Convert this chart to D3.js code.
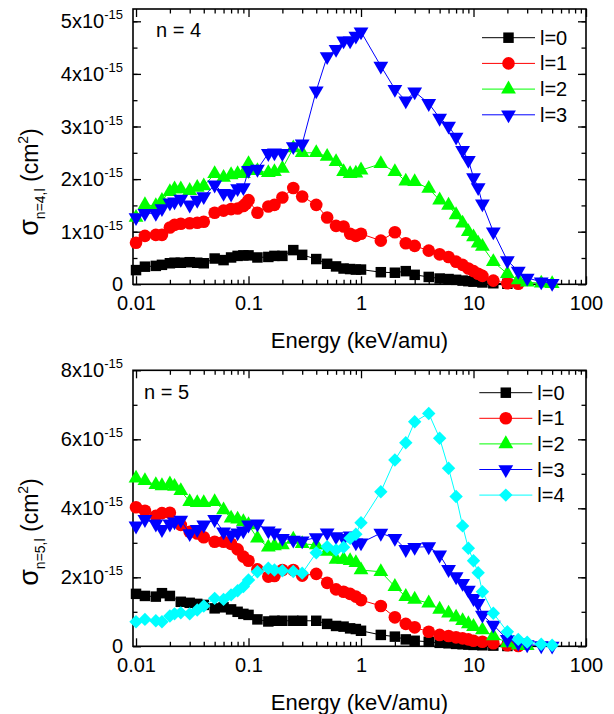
<!DOCTYPE html>
<html>
<head>
<meta charset="utf-8">
<script src="https://cdn.jsdelivr.net/npm/d3@7.9.0/dist/d3.min.js"></script>
<style>
  body { margin: 0; background: #fff; }
  svg { display: block; font-family: "Liberation Sans", Arial, sans-serif; }
</style>
</head>
<body>
<svg id="chart" width="614" height="714"></svg>
<script>
// cross sections in units of 1e-15 cm^2, energies in keV/amu
const colors = ['#000000', '#ff0000', '#00ff00', '#0000ff', '#00ffff'];
const legendLabels = ['l=0', 'l=1', 'l=2', 'l=3', 'l=4'];
const xTickValues = [0.01, 0.1, 1, 10, 100];
const xTickLabels = ['0.01', '0.1', '1', '10', '100'];
const yTicksN4 = [0, 1, 2, 3, 4, 5];
const yTicksN5 = [0, 2, 4, 6, 8];

// n = 4
const energyN4L0 = [0.01, 0.012, 0.015, 0.017, 0.02, 0.022, 0.025, 0.03, 0.035, 0.04, 0.05, 0.06, 0.07, 0.08, 0.09, 0.1, 0.12, 0.15, 0.17, 0.2, 0.25, 0.3, 0.4, 0.5, 0.6, 0.7, 0.8, 0.9, 1, 1.5, 2, 2.5, 3, 4, 5, 6, 7, 8, 9, 10, 12, 15, 20];
const sigmaN4L0 = [0.27, 0.335, 0.35, 0.37, 0.40, 0.41, 0.41, 0.42, 0.41, 0.40, 0.49, 0.46, 0.51, 0.54, 0.55, 0.55, 0.51, 0.52, 0.54, 0.54, 0.65, 0.56, 0.48, 0.39, 0.34, 0.30, 0.29, 0.28, 0.28, 0.23, 0.22, 0.25, 0.18, 0.14, 0.11, 0.10, 0.085, 0.07, 0.06, 0.05, 0.035, 0.02, 0.01];

const energyN4L1 = [0.01, 0.012, 0.015, 0.017, 0.02, 0.022, 0.025, 0.03, 0.035, 0.04, 0.05, 0.06, 0.07, 0.08, 0.09, 0.095, 0.1, 0.12, 0.15, 0.17, 0.2, 0.25, 0.3, 0.4, 0.5, 0.6, 0.7, 0.8, 0.9, 1, 1.5, 2, 2.5, 3, 4, 5, 6, 7, 8, 9, 10, 11, 12, 15, 20, 25];
const sigmaN4L1 = [0.79, 0.92, 0.94, 0.94, 1.08, 1.13, 1.15, 1.16, 1.17, 1.19, 1.36, 1.40, 1.43, 1.44, 1.49, 1.53, 1.60, 1.36, 1.48, 1.51, 1.65, 1.83, 1.67, 1.51, 1.27, 1.11, 1.10, 0.96, 0.92, 0.96, 0.83, 0.99, 0.78, 0.73, 0.64, 0.57, 0.52, 0.43, 0.37, 0.30, 0.25, 0.20, 0.16, 0.07, 0.02, 0.01];

const energyN4L2 = [0.01, 0.012, 0.015, 0.017, 0.02, 0.022, 0.025, 0.03, 0.035, 0.04, 0.05, 0.06, 0.07, 0.08, 0.09, 0.1, 0.12, 0.15, 0.17, 0.2, 0.25, 0.3, 0.4, 0.5, 0.6, 0.7, 0.8, 0.9, 1, 1.5, 2, 2.5, 3, 4, 5, 6, 7, 8, 9, 10, 11, 12, 15, 20, 25, 30, 40, 50];
const sigmaN4L2 = [1.27, 1.51, 1.49, 1.59, 1.76, 1.81, 1.81, 1.78, 1.84, 1.87, 2.10, 2.03, 2.08, 2.10, 2.10, 2.29, 2.16, 2.12, 2.14, 2.20, 2.59, 2.50, 2.50, 2.43, 2.33, 2.14, 2.10, 2.11, 2.17, 2.29, 2.14, 1.96, 1.95, 1.82, 1.60, 1.50, 1.32, 1.16, 1.00, 0.90, 0.78, 0.72, 0.43, 0.20, 0.08, 0.04, 0.02, 0.01];

const energyN4L3 = [0.01, 0.012, 0.015, 0.017, 0.02, 0.022, 0.025, 0.03, 0.035, 0.04, 0.05, 0.06, 0.07, 0.08, 0.09, 0.1, 0.12, 0.15, 0.17, 0.2, 0.25, 0.3, 0.4, 0.5, 0.6, 0.7, 0.8, 0.9, 1, 1.5, 2, 2.5, 3, 4, 5, 6, 7, 8, 9, 10, 11, 12, 15, 20, 25, 30, 40, 50];
const sigmaN4L3 = [1.27, 1.35, 1.35, 1.44, 1.55, 1.57, 1.62, 1.51, 1.60, 1.67, 1.89, 1.73, 1.72, 1.82, 1.84, 2.17, 2.19, 2.49, 2.50, 2.49, 2.62, 2.67, 3.68, 4.33, 4.47, 4.63, 4.63, 4.72, 4.80, 4.15, 3.71, 3.49, 3.66, 3.44, 3.16, 3.01, 2.80, 2.55, 2.36, 2.03, 1.84, 1.53, 1.00, 0.45, 0.25, 0.12, 0.05, 0.02];

// n = 5
const energyN5L0 = [0.01, 0.012, 0.015, 0.017, 0.02, 0.025, 0.03, 0.035, 0.04, 0.05, 0.06, 0.07, 0.08, 0.09, 0.1, 0.12, 0.15, 0.17, 0.2, 0.25, 0.3, 0.4, 0.5, 0.6, 0.7, 0.8, 0.9, 1, 1.5, 2, 2.5, 3, 4, 5, 6, 7, 8, 9, 10, 12, 15, 20];
const sigmaN5L0 = [1.52, 1.46, 1.44, 1.54, 1.46, 1.29, 1.26, 1.23, 1.20, 1.10, 1.13, 1.07, 1.00, 0.94, 0.91, 0.78, 0.72, 0.74, 0.74, 0.74, 0.74, 0.74, 0.65, 0.59, 0.57, 0.52, 0.50, 0.45, 0.33, 0.28, 0.20, 0.16, 0.13, 0.10, 0.087, 0.07, 0.06, 0.05, 0.04, 0.03, 0.02, 0.01];

const energyN5L1 = [0.01, 0.012, 0.015, 0.017, 0.02, 0.025, 0.03, 0.035, 0.04, 0.05, 0.06, 0.07, 0.08, 0.09, 0.1, 0.12, 0.15, 0.17, 0.2, 0.25, 0.3, 0.4, 0.5, 0.6, 0.7, 0.8, 0.9, 1, 1.5, 2, 2.5, 3, 4, 5, 6, 7, 8, 9, 10, 12, 15, 20, 25];
const sigmaN5L1 = [4.03, 3.93, 3.78, 3.86, 3.87, 3.52, 3.32, 3.27, 3.16, 3.03, 3.03, 2.97, 2.81, 2.60, 2.48, 2.23, 2.02, 2.04, 2.21, 2.21, 2.05, 2.10, 1.84, 1.65, 1.58, 1.52, 1.44, 1.34, 1.17, 0.84, 0.65, 0.55, 0.42, 0.33, 0.30, 0.26, 0.23, 0.20, 0.16, 0.13, 0.087, 0.03, 0.01];

const energyN5L2 = [0.01, 0.012, 0.015, 0.017, 0.02, 0.022, 0.025, 0.03, 0.035, 0.04, 0.05, 0.06, 0.07, 0.08, 0.09, 0.1, 0.12, 0.15, 0.17, 0.2, 0.25, 0.3, 0.4, 0.5, 0.6, 0.7, 0.8, 0.9, 1, 1.5, 2, 2.5, 3, 4, 5, 6, 7, 8, 9, 10, 12, 15, 20, 25, 30];
const sigmaN5L2 = [4.87, 4.80, 4.68, 4.65, 4.70, 4.63, 4.51, 4.19, 4.16, 4.16, 4.19, 3.95, 3.71, 3.68, 3.61, 3.52, 3.13, 2.87, 2.91, 2.94, 3.10, 2.97, 2.94, 2.75, 2.52, 2.52, 2.48, 2.42, 2.21, 2.16, 1.73, 1.44, 1.36, 1.25, 1.07, 0.96, 0.84, 0.74, 0.65, 0.57, 0.47, 0.30, 0.10, 0.04, 0.02];

const energyN5L3 = [0.01, 0.012, 0.015, 0.017, 0.02, 0.022, 0.025, 0.03, 0.035, 0.04, 0.05, 0.06, 0.07, 0.08, 0.09, 0.1, 0.12, 0.15, 0.17, 0.2, 0.25, 0.3, 0.4, 0.5, 0.6, 0.7, 0.8, 0.9, 1, 1.5, 2, 2.5, 3, 4, 5, 6, 7, 8, 9, 10, 11, 12, 15, 20, 25, 30, 40, 50];
const sigmaN5L3 = [3.49, 3.68, 3.55, 3.39, 3.55, 3.61, 3.66, 3.27, 3.39, 3.52, 3.68, 3.32, 3.23, 3.29, 3.35, 3.52, 3.55, 3.35, 3.29, 3.13, 3.08, 3.06, 3.15, 3.29, 3.18, 3.13, 3.20, 3.00, 3.00, 3.28, 3.13, 2.81, 2.87, 2.89, 2.65, 2.23, 2.02, 1.83, 1.63, 1.39, 1.25, 0.91, 0.62, 0.20, 0.10, 0.05, 0.02, 0.01];

const energyN5L4 = [0.01, 0.012, 0.015, 0.017, 0.02, 0.022, 0.025, 0.03, 0.035, 0.04, 0.05, 0.06, 0.07, 0.08, 0.09, 0.1, 0.12, 0.15, 0.17, 0.2, 0.25, 0.3, 0.4, 0.5, 0.6, 0.7, 0.8, 0.9, 1, 1.5, 2, 2.5, 3, 4, 5, 6, 7, 8, 9, 10, 11, 12, 15, 20, 25, 30, 40, 50];
const sigmaN5L4 = [0.71, 0.78, 0.74, 0.71, 0.88, 0.94, 0.97, 0.94, 1.05, 1.17, 1.39, 1.36, 1.49, 1.61, 1.73, 1.92, 2.16, 2.26, 2.21, 2.19, 2.17, 2.12, 2.71, 2.89, 2.79, 2.87, 3.13, 3.25, 3.58, 4.48, 5.40, 5.90, 6.51, 6.75, 6.03, 5.16, 4.34, 3.49, 2.84, 2.48, 2.13, 1.58, 0.96, 0.42, 0.20, 0.12, 0.06, 0.03];

const svg = d3.select('#chart');
const FRAME_L = 133, FRAME_R = 586;

function markerPath(i) {
  if (i === 0) return d3.symbol(d3.symbolSquare, 110)();
  if (i === 1) return d3.symbol(d3.symbolCircle, 125)();
  if (i === 4) return d3.symbol(d3.symbolSquare, 90)();
  return d3.symbol(d3.symbolTriangle, 95)();
}
function markerRotate(i) {
  if (i === 3) return ' rotate(180)';
  if (i === 4) return ' rotate(45)';
  return '';
}

function drawPanel(cfg) {
  const x = d3.scaleLog().domain([0.0094, 100]).range([FRAME_L, FRAME_R]);
  const y = d3.scaleLinear().domain([0, cfg.yMax]).range([cfg.bottom, cfg.top]);
  const g = svg.append('g');

  const minorX = [];
  for (let d = 0.01; d < 99; d *= 10) {
    for (let k = 2; k <= 9; k++) minorX.push(+(d * k).toPrecision(3));
  }
  const minorY = d3.range(cfg.minorStep, cfg.yMax, cfg.minorStep);

  const tidy = (sel) => sel.call((s) => s.select('.domain').remove());

  // x ticks, bottom and top
  g.append('g').attr('transform', `translate(0,${cfg.bottom})`)
    .call(d3.axisBottom(x).tickValues(minorX).tickSizeInner(-4.5).tickSizeOuter(0).tickFormat(''))
    .call(tidy);
  g.append('g').attr('transform', `translate(0,${cfg.bottom})`)
    .call(d3.axisBottom(x).tickValues(xTickValues).tickSizeInner(-8).tickSizeOuter(0).tickPadding(12)
      .tickFormat((d, i) => xTickLabels[i]))
    .call(tidy)
    .call((s) => s.selectAll('text').attr('font-size', 20).attr('fill', '#000').attr('font-family', null));
  g.append('g').attr('transform', `translate(0,${cfg.top})`)
    .call(d3.axisTop(x).tickValues(minorX).tickSizeInner(-4.5).tickSizeOuter(0).tickFormat(''))
    .call(tidy);
  g.append('g').attr('transform', `translate(0,${cfg.top})`)
    .call(d3.axisTop(x).tickValues(xTickValues).tickSizeInner(-8).tickSizeOuter(0).tickFormat(''))
    .call(tidy);

  // y ticks, left and right
  g.append('g').attr('transform', `translate(${FRAME_L},0)`)
    .call(d3.axisLeft(y).tickValues(minorY).tickSizeInner(-4.5).tickSizeOuter(0).tickFormat(''))
    .call(tidy);
  g.append('g').attr('transform', `translate(${FRAME_L},0)`)
    .call(d3.axisLeft(y).tickValues(cfg.yTicks).tickSizeInner(-8).tickSizeOuter(0).tickFormat(''))
    .call(tidy);
  g.append('g').attr('transform', `translate(${FRAME_R},0)`)
    .call(d3.axisRight(y).tickValues(minorY).tickSizeInner(-4.5).tickSizeOuter(0).tickFormat(''))
    .call(tidy);
  g.append('g').attr('transform', `translate(${FRAME_R},0)`)
    .call(d3.axisRight(y).tickValues(cfg.yTicks).tickSizeInner(-8).tickSizeOuter(0).tickFormat(''))
    .call(tidy);
  g.selectAll('.tick line').attr('stroke', '#000').attr('stroke-width', 1.3);

  // y tick labels like 2x10^-15
  cfg.yTicks.forEach((v) => {
    const t = g.append('text').attr('x', 123).attr('y', y(v) + 7)
      .attr('text-anchor', 'end').attr('font-size', 20);
    if (v === 0) {
      t.text('0');
    } else {
      t.append('tspan').text(`${v}x10`);
      t.append('tspan').attr('font-size', 13).attr('dy', -9).text('-15');
    }
  });

  // frame
  g.append('rect')
    .attr('x', FRAME_L).attr('y', cfg.top)
    .attr('width', FRAME_R - FRAME_L).attr('height', cfg.bottom - cfg.top)
    .attr('fill', 'none').attr('stroke', '#000').attr('stroke-width', 1.6);

  // series
  const line = d3.line().x((d) => x(d[0])).y((d) => y(d[1]));
  cfg.series.forEach((s, i) => {
    const pts = s.energy.map((e, k) => [e, s.sigma[k]]);
    g.append('path').datum(pts)
      .attr('d', line).attr('fill', 'none')
      .attr('stroke', colors[i]).attr('stroke-width', 1);
    g.append('g').selectAll('path').data(pts).join('path')
      .attr('d', markerPath(i))
      .attr('transform', (d) => `translate(${x(d[0])},${y(d[1])})${markerRotate(i)}`)
      .attr('fill', colors[i]);
  });

  // legend
  cfg.series.forEach((s, i) => {
    const ly = cfg.legend.y0 + i * cfg.legend.step;
    g.append('line')
      .attr('x1', cfg.legend.x0).attr('x2', cfg.legend.x0 + 53)
      .attr('y1', ly).attr('y2', ly)
      .attr('stroke', colors[i]).attr('stroke-width', 1);
    g.append('path').attr('d', markerPath(i))
      .attr('transform', `translate(${cfg.legend.x0 + 26.5},${ly})${markerRotate(i)}`)
      .attr('fill', colors[i]);
    g.append('text')
      .attr('x', cfg.legend.x0 + 58).attr('y', ly + 7)
      .attr('font-size', 20).text(legendLabels[i]);
  });

  // panel tag
  g.append('text').attr('x', cfg.tag.x).attr('y', cfg.tag.y)
    .attr('font-size', 20).text(cfg.tag.text);

  // x title
  g.append('text').attr('x', (FRAME_L + FRAME_R) / 2).attr('y', cfg.bottom + 64)
    .attr('text-anchor', 'middle').attr('font-size', 22).text('Energy (keV/amu)');

  // y title
  const yt = g.append('text')
    .attr('transform', `translate(38,${cfg.yTitleY}) rotate(-90)`)
    .attr('text-anchor', 'middle').attr('font-size', 23);
  yt.append('tspan').attr('font-size', 27).text('σ');
  yt.append('tspan').attr('font-size', 14).attr('dy', 7).text(cfg.subscript);
  yt.append('tspan').attr('dy', -7).text(' (cm');
  yt.append('tspan').attr('font-size', 14).attr('dy', -10).text('2');
  yt.append('tspan').attr('dy', 10).text(')');
}

drawPanel({
  top: 9, bottom: 284.3, yMax: (284.3 - 9) / 52.6, yTicks: yTicksN4, minorStep: 0.5,
  subscript: 'n=4,l', yTitleY: 182,
  tag: { text: 'n = 4', x: 156, y: 37 },
  legend: { x0: 482, y0: 37.7, step: 25.7 },
  series: [
    { energy: energyN4L0, sigma: sigmaN4L0 },
    { energy: energyN4L1, sigma: sigmaN4L1 },
    { energy: energyN4L2, sigma: sigmaN4L2 },
    { energy: energyN4L3, sigma: sigmaN4L3 },
  ],
});

drawPanel({
  top: 370.3, bottom: 646.3, yMax: 8, yTicks: yTicksN5, minorStep: 1,
  subscript: 'n=5,l', yTitleY: 532,
  tag: { text: 'n = 5', x: 144, y: 399 },
  legend: { x0: 479.3, y0: 392.7, step: 25.6 },
  series: [
    { energy: energyN5L0, sigma: sigmaN5L0 },
    { energy: energyN5L1, sigma: sigmaN5L1 },
    { energy: energyN5L2, sigma: sigmaN5L2 },
    { energy: energyN5L3, sigma: sigmaN5L3 },
    { energy: energyN5L4, sigma: sigmaN5L4 },
  ],
});
</script>
</body>
</html>
